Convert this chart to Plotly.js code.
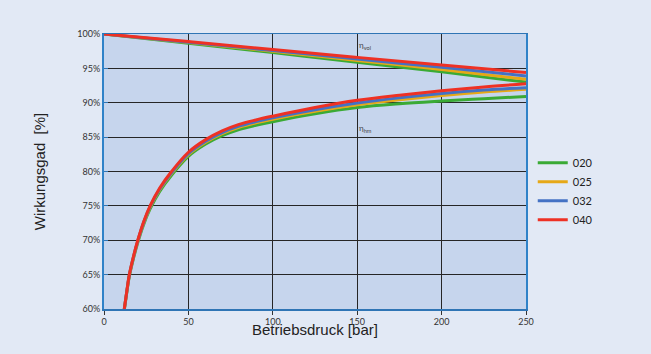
<!DOCTYPE html>
<html><head><meta charset="utf-8">
<script src="https://cdn.plot.ly/plotly-3.0.1.min.js"></script>
<style>html,body{margin:0;padding:0;background:#e2e9f5;}</style>
</head><body><div id="chart" style="width:651px;height:354px;"></div>
<script>
// Series names
const seriesNames = ['020', '025', '032', '040'];
const seriesColors = ['#3aaa35', '#e6a817', '#4472c4', '#ee3124'];

// Volumetric efficiency (upper curves)
const pVol = [0, 50, 100, 150, 200, 250];
const volGreen  = [100, 98.65, 97.3, 95.9, 94.5, 93.0];
const volOrange = [100, 98.75, 97.5, 96.15, 94.85, 93.4];
const volBlue   = [100, 98.8, 97.6, 96.35, 95.15, 93.9];
const volRed    = [100, 98.9, 97.75, 96.6, 95.5, 94.4];

// Hydraulic-mechanical efficiency (lower curves)
const pHm = [12, 13.5, 15, 17.5, 20, 23.5, 27.3, 33, 40, 50, 60, 70, 80, 90, 100, 125, 150, 175, 200, 225, 250];
const hmGreen  = [59.85, 62.4, 64.75, 67.4, 69.65, 72.3, 74.55, 77.1, 79.45, 82.2, 83.95, 85.2, 86.1, 86.72, 87.25, 88.4, 89.3, 89.85, 90.25, 90.6, 90.9];
const hmOrange = [59.92, 62.5, 64.88, 67.55, 69.83, 72.5, 74.8, 77.35, 79.7, 82.45, 84.22, 85.5, 86.43, 87.07, 87.6, 88.75, 89.7, 90.43, 91.05, 91.57, 91.95];
const hmBlue   = [59.96, 62.55, 64.93, 67.62, 69.9, 72.6, 74.88, 77.45, 79.82, 82.6, 84.38, 85.67, 86.6, 87.25, 87.8, 88.98, 89.95, 90.72, 91.35, 91.85, 92.2];
const hmRed    = [60.0, 62.6, 65.0, 67.7, 70.0, 72.7, 75.0, 77.6, 80.0, 82.8, 84.6, 85.9, 86.85, 87.5, 88.05, 89.3, 90.35, 91.1, 91.75, 92.3, 92.75];

const xTicks = [0, 50, 100, 150, 200, 250];
const yTicks = [60, 65, 70, 75, 80, 85, 90, 95, 100];
const yTickText = yTicks.map(v => v + '%');

const volData = [volGreen, volOrange, volBlue, volRed];
const hmData = [hmGreen, hmOrange, hmBlue, hmRed];

const traces = [];
for (let i = 0; i < seriesNames.length; i++) {
  traces.push({
    x: pVol, y: volData[i], type: 'scatter', mode: 'lines',
    name: seriesNames[i], legendgroup: seriesNames[i], showlegend: true,
    line: {color: seriesColors[i], width: 3, shape: 'spline', smoothing: 1}
  });
  traces.push({
    x: pHm, y: hmData[i], type: 'scatter', mode: 'lines',
    name: seriesNames[i], legendgroup: seriesNames[i], showlegend: false,
    line: {color: seriesColors[i], width: 3, shape: 'spline', smoothing: 1}
  });
}

const layout = {
  width: 651, height: 354,
  paper_bgcolor: '#e2e9f5',
  plot_bgcolor: '#c6d5ed',
  margin: {l: 104, r: 125, t: 34, b: 45},
  font: {family: 'Lato, "Open Sans", sans-serif', size: 9, color: '#333'},
  showlegend: true,
  legend: {
    x: 1.016, y: 0.585, xanchor: 'left', yanchor: 'top',
    bgcolor: 'rgba(0,0,0,0)', font: {size: 11, color: '#222', family: 'Lato, sans-serif'},
    itemwidth: 30, tracegroupgap: 0
  },
  xaxis: {
    range: [0, 250], tickvals: xTicks, ticktext: xTicks.map(String),
    showgrid: true, gridcolor: '#262626', gridwidth: 1,
    showline: true, linecolor: '#2f75b5', linewidth: 1.5, mirror: true,
    ticks: 'outside', ticklen: 4, tickcolor: '#333',
    zeroline: false, tickfont: {size: 9, color: '#333'}
  },
  yaxis: {
    range: [60, 100], tickvals: yTicks, ticktext: yTickText,
    showgrid: true, gridcolor: '#262626', gridwidth: 1,
    showline: true, linecolor: '#2f82c8', linewidth: 2, mirror: true,
    ticks: 'inside', ticklen: 4, tickcolor: '#2f75b5',
    zeroline: false, tickfont: {size: 9, color: '#333'},
    title: {text: 'Wirkungsgad  [%]', standoff: 28,
            font: {size: 15, color: '#222', family: '"Liberation Sans", Arial, sans-serif'}}
  },
  annotations: [
    {text: 'Betriebsdruck [bar]', xref: 'paper', yref: 'paper', x: 0.5, y: -0.075,
     xanchor: 'center', yanchor: 'middle', showarrow: false,
     font: {size: 15, color: '#222', family: '"Liberation Sans", Arial, sans-serif'}},
    {text: 'η<sub>vol</sub>', xref: 'x', yref: 'y', x: 150, y: 98.3, xanchor: 'left', yanchor: 'middle',
     showarrow: false, font: {size: 8, color: '#444'}},
    {text: 'η<sub>hm</sub>', xref: 'x', yref: 'y', x: 150, y: 86.3, xanchor: 'left', yanchor: 'middle',
     showarrow: false, font: {size: 8, color: '#444'}}
  ]
};

Plotly.newPlot('chart', traces, layout, {displayModeBar: false, staticPlot: true});
</script>
</body></html>
